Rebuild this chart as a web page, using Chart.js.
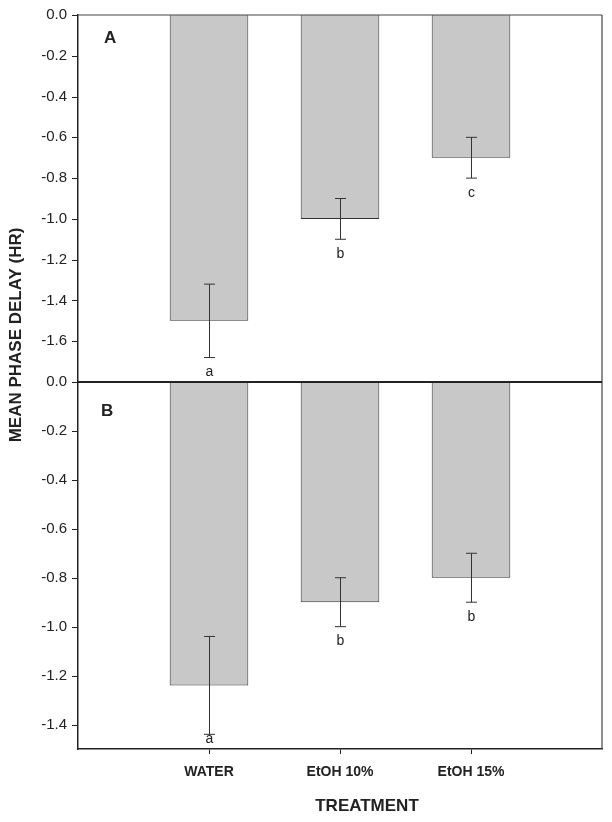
<!DOCTYPE html>
<html>
<head>
<meta charset="utf-8">
<script src="https://cdn.jsdelivr.net/npm/chart.js@4/dist/chart.umd.min.js"></script>
<style>
  html, body { margin: 0; padding: 0; background: #fff; }
  #c { display: block; }
</style>
</head>
<body>
<canvas id="c" width="612" height="822"></canvas>
<script>
// ---- data ----
const categories = ['WATER', 'EtOH 10%', 'EtOH 15%'];
const meansA = [-1.5, -1.0, -0.7];
const errorsA = [0.18, 0.10, 0.10];
const lettersA = ['a', 'b', 'c'];
const meansB = [-1.24, -0.9, -0.8];
const errorsB = [0.20, 0.10, 0.10];
const lettersB = ['a', 'b', 'b'];
const panelNames = ['A', 'B'];
const yMinA = -1.8, yMinB = -1.5;
const yTicksA = [0, -0.2, -0.4, -0.6, -0.8, -1.0, -1.2, -1.4, -1.6];
const yTicksB = [0, -0.2, -0.4, -0.6, -0.8, -1.0, -1.2, -1.4];
const yTitle = 'MEAN PHASE DELAY (HR)';
const xTitle = 'TREATMENT';

const FONT = "'Liberation Sans', Arial, Helvetica, sans-serif";
const INK = '#222';

// category axis with an empty slot on each side
const labels = [''].concat(categories, [' ']);
const pad = arr => [null].concat(arr, [null]);

const errorBarPlugin = {
  id: 'errorBars',
  afterDatasetsDraw(chart) {
    const ctx = chart.ctx;
    const sets = [
      {means: meansA, errs: errorsA, letters: lettersA, scale: chart.scales.yA},
      {means: meansB, errs: errorsB, letters: lettersB, scale: chart.scales.yB}
    ];
    sets.forEach((s, di) => {
      const meta = chart.getDatasetMeta(di);
      s.means.forEach((m, i) => {
        const el = meta.data[i + 1];
        if (!el) return;
        const x = Math.round(el.x) + 0.5;
        const yt = s.scale.getPixelForValue(m + s.errs[i]);
        const yb = s.scale.getPixelForValue(m - s.errs[i]);
        ctx.save();
        ctx.strokeStyle = '#333';
        ctx.lineWidth = 1;
        ctx.beginPath();
        ctx.moveTo(x, yt); ctx.lineTo(x, yb);
        ctx.moveTo(x - 5.5, yt); ctx.lineTo(x + 5.5, yt);
        ctx.moveTo(x - 5.5, yb); ctx.lineTo(x + 5.5, yb);
        ctx.stroke();
        // significance letter
        let base = yb + 18.5;
        const limit = s.scale.bottom - 6;
        if (base > limit) base = limit;
        ctx.fillStyle = INK;
        ctx.font = '14px ' + FONT;
        ctx.textAlign = 'center';
        ctx.textBaseline = 'alphabetic';
        ctx.fillText(s.letters[i], x, base);
        ctx.restore();
      });
    });
  },
  afterDraw(chart) {
    const ctx = chart.ctx;
    const a = chart.chartArea;
    const yA = chart.scales.yA, yB = chart.scales.yB;
    ctx.save();
    // y tick marks (outside, pointing left)
    ctx.strokeStyle = INK;
    ctx.lineWidth = 1;
    ctx.beginPath();
    [yA, yB].forEach(s => {
      s.ticks.forEach(t => {
        const y = Math.round(s.getPixelForValue(t.value)) + 0.5;
        ctx.moveTo(a.left - 6, y); ctx.lineTo(a.left, y);
      });
    });
    ctx.stroke();
    // frame: top and right
    ctx.strokeStyle = '#444';
    ctx.lineWidth = 1.2;
    ctx.beginPath();
    ctx.moveTo(a.left, a.top); ctx.lineTo(a.right, a.top);
    ctx.moveTo(a.right, a.top); ctx.lineTo(a.right, a.bottom);
    ctx.stroke();
    // panel divider (zero line of B)
    const ym = yB.getPixelForValue(0);
    ctx.strokeStyle = '#222';
    ctx.lineWidth = 2;
    ctx.beginPath();
    ctx.moveTo(a.left, ym); ctx.lineTo(a.right, ym);
    ctx.stroke();
    // panel letters
    ctx.fillStyle = INK;
    ctx.font = 'bold 17px ' + FONT;
    ctx.textAlign = 'left';
    ctx.textBaseline = 'alphabetic';
    ctx.fillText(panelNames[0], a.left + 26, yA.top + 28);
    ctx.fillText(panelNames[1], a.left + 23, yB.top + 34);
    // axis titles
    ctx.textAlign = 'center';
    ctx.textBaseline = 'middle';
    ctx.fillText(xTitle, 367, 806);
    ctx.translate(16.5, 335);
    ctx.rotate(-Math.PI / 2);
    ctx.fillText(yTitle, 0, 0);
    ctx.restore();
  }
};

function yScale(min, tickVals) {
  return {
    type: 'linear',
    position: 'left',
    stack: 'panels',
    stackWeight: 1,
    min: min,
    max: 0,
    ticks: {
      padding: 11,
      color: INK,
      font: {family: FONT, size: 15},
      callback: v => Number(v).toFixed(1)
    },
    grid: {display: false, drawOnChartArea: false, drawTicks: false},
    border: {display: true, color: INK, width: 1.5},
    afterBuildTicks: s => { s.ticks = tickVals.map(v => ({value: v})); },
    afterFit: s => { s.width = 78; s.paddingTop = 0; s.paddingBottom = 0; }
  };
}

new Chart(document.getElementById('c'), {
  type: 'bar',
  data: {
    labels: labels,
    datasets: [
      {label: panelNames[0], data: pad(meansA), yAxisID: 'yA', grouped: false,
       backgroundColor: '#c8c8c8', borderColor: '#333', borderWidth: 1,
       barPercentage: 1, categoryPercentage: 0.6},
      {label: panelNames[1], data: pad(meansB), yAxisID: 'yB', grouped: false,
       backgroundColor: '#c8c8c8', borderColor: '#333', borderWidth: 1,
       barPercentage: 1, categoryPercentage: 0.6}
    ]
  },
  options: {
    responsive: false,
    animation: false,
    devicePixelRatio: 1,
    layout: {padding: {left: 0, right: 10, top: 15, bottom: 0}},
    plugins: {legend: {display: false}, tooltip: {enabled: false}, title: {display: false}},
    scales: {
      x: {
        type: 'category',
        offset: false,
        grid: {
          offset: false,
          drawOnChartArea: false, drawTicks: true, tickLength: 5,
          color: c => (c.index === 0 || c.index === labels.length - 1) ? 'rgba(0,0,0,0)' : INK
        },
        border: {display: true, color: INK, width: 1.5},
        ticks: {color: INK, font: {family: FONT, size: 14, weight: 'bold'}, padding: 10,
                maxRotation: 0, autoSkip: false},
        afterFit: s => { s.height = 73; s.paddingLeft = 0; s.paddingRight = 0; }
      },
      yB: yScale(yMinB, yTicksB),
      yA: yScale(yMinA, yTicksA)
    }
  },
  plugins: [errorBarPlugin]
});
</script>
</body>
</html>
